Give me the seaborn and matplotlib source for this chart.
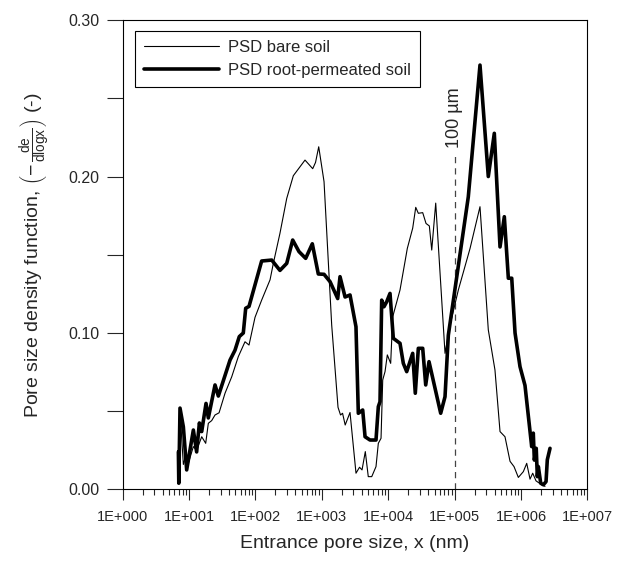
import numpy as np
import pandas as pd
import matplotlib
matplotlib.use("Agg")
import matplotlib.pyplot as plt
from matplotlib.ticker import FixedLocator, MultipleLocator, FuncFormatter, LogLocator, NullFormatter
import seaborn as sns

# ---------------------------------------------------------
# data (x in nm, y = -de/dlogx)
# ---------------------------------------------------------
bare_x = [7.0, 7.5, 8.2, 9.0, 9.73, 11.6, 13.0, 15.5, 17.8, 19.5, 21.9, 24.6, 28.3, 34.8,
          43.9, 55.2, 69.6, 80.0, 98.5, 124, 166, 186, 234, 296, 372, 558, 729, 804, 898,
          1080, 1409, 1754, 1914, 2053, 2250, 2660, 3272, 3700, 4035, 4520, 5010, 5650,
          6550, 7100, 7800, 8270, 8960, 9700, 10900, 11700, 15070, 17920, 19400, 23400,
          26000, 28440, 33110, 37150, 41680, 45300, 52000, 71800, 85400, 114000, 171000,
          241600, 322300, 406000, 484000, 575000, 685000, 787000, 914000, 1087000,
          1222000, 1371000, 1504000, 1687000, 2056000, 2306000]
bare_y = [0.030, 0.042, 0.016, 0.022, 0.0167, 0.0274, 0.025, 0.0337, 0.0295, 0.0423, 0.044,
          0.0476, 0.049, 0.0615, 0.072, 0.0849, 0.0944, 0.0923, 0.110, 0.121, 0.134, 0.1445,
          0.1637, 0.186, 0.2005, 0.2105, 0.205, 0.209, 0.219, 0.1967, 0.105, 0.0525, 0.0476,
          0.0487, 0.0412, 0.0492, 0.0104, 0.0142, 0.0125, 0.0242, 0.0082, 0.0082, 0.0146,
          0.0295, 0.0327, 0.070, 0.0753, 0.086, 0.0806, 0.1104, 0.1275, 0.1456, 0.154, 0.167,
          0.1803, 0.1765, 0.1769, 0.170, 0.1684, 0.153, 0.183, 0.087, 0.105, 0.1275, 0.154,
          0.1807, 0.102, 0.0764, 0.037, 0.0337, 0.018, 0.0146, 0.0077, 0.0114, 0.0167,
          0.0066, 0.0104, 0.0055, 0.0030, 0.0020]

root_x = [6.9, 7.0, 7.3, 8.2, 9.2, 11.6, 13.0, 14.3, 15.5, 18.0, 19.5, 24.6, 27.6, 41.4,
          49.2, 57.1, 65.6, 71.3, 80.0, 124, 176, 234, 296, 364, 453, 571, 719, 885, 1080,
          1330, 1735, 1880, 2240, 2660, 3270, 3548, 4130, 4480, 5320, 6550, 7100, 7530,
          7980, 8650, 9500, 10650, 11940, 15070, 16900, 19010, 23400, 25600, 28440, 33110,
          36750, 41200, 61800, 71800, 80500, 161000, 241600, 322300, 397000, 484000,
          562000, 646000, 726700, 815000, 968000, 1151000, 1452000, 1535000, 1592000,
          1700000, 1766000, 1829000, 1987000, 2174000, 2388000, 2497000, 2742000]
root_y = [0.024, 0.004, 0.052, 0.040, 0.0125, 0.038, 0.024, 0.0425, 0.037, 0.055, 0.0457,
          0.0668, 0.0597, 0.0827, 0.089, 0.0977, 0.100, 0.1158, 0.117, 0.146, 0.1466, 0.140,
          0.1445, 0.1594, 0.152, 0.1477, 0.157, 0.1377, 0.1375, 0.1328, 0.122, 0.136, 0.123,
          0.1243, 0.104, 0.0487, 0.0508, 0.0337, 0.0316, 0.0316, 0.0529, 0.0561, 0.121,
          0.1168, 0.120, 0.1253, 0.0966, 0.0934, 0.0806, 0.0753, 0.087, 0.0615, 0.0902,
          0.0902, 0.0668, 0.0817, 0.0487, 0.0593, 0.0985, 0.187, 0.2712, 0.200, 0.2276,
          0.155, 0.1743, 0.135, 0.135, 0.100, 0.0785, 0.0665, 0.0274, 0.036, 0.0188, 0.0263,
          0.0082, 0.0146, 0.004, 0.003, 0.005, 0.019, 0.0263]

series_labels = ["PSD bare soil", "PSD root-permeated soil"]
marker_size_nm = 1e5
marker_label = "100 µm"

# ---------------------------------------------------------
# style
# ---------------------------------------------------------
sns.set_style("ticks")
plt.rcParams.update({
    'font.family': ['Liberation Sans', 'DejaVu Sans'],
    'mathtext.fontset': 'custom',
    'mathtext.rm': 'Liberation Sans',
    'mathtext.it': 'Liberation Sans:italic',
    'mathtext.bf': 'Liberation Sans:bold',
    'axes.edgecolor': 'black',
    'axes.linewidth': 0.8,
})

fig = plt.figure(figsize=(6.27, 5.61), dpi=100)
ax = fig.add_axes([0.1957, 0.1275, 0.7410, 0.8368])

sns.lineplot(x=bare_x, y=bare_y, ax=ax, color='black', linewidth=0.8,
             estimator=None, sort=False, label=series_labels[0])
sns.lineplot(x=root_x, y=root_y, ax=ax, color='black', linewidth=2.6,
             estimator=None, sort=False, label=series_labels[1])

ax.axvline(marker_size_nm, ymin=0, ymax=0.214 / 0.30, color='#444444',
           linestyle=(0, (5, 4)), linewidth=0.9, zorder=1)
ax.text(marker_size_nm, 0.2375, marker_label, rotation=90, ha='center', va='center',
        fontsize=13)

ax.set_xscale('log')
ax.set_xlim(1, 1e7)
ax.set_ylim(0, 0.30)

ax.xaxis.set_major_locator(FixedLocator([10.0 ** k for k in range(8)]))
ax.xaxis.set_minor_locator(LogLocator(base=10, subs=np.arange(2, 10), numticks=20))
ax.xaxis.set_minor_formatter(NullFormatter())
ax.xaxis.set_major_formatter(FuncFormatter(lambda v, p: f"1E+{int(round(np.log10(v))):03d}"))

ax.yaxis.set_major_locator(MultipleLocator(0.10))
ax.yaxis.set_minor_locator(MultipleLocator(0.05))
ax.yaxis.set_major_formatter(FuncFormatter(lambda v, p: f"{v:.2f}"))

ax.tick_params(axis='x', which='major', direction='out', length=8, width=0.8,
               labelsize=10.5, pad=7)
ax.tick_params(axis='x', which='minor', direction='out', length=4.5, width=0.8)
ax.tick_params(axis='y', which='both', direction='out', length=11.5, width=0.8)
ax.tick_params(axis='y', which='major', labelsize=11.5, pad=5)

ax.set_xlabel('Entrance pore size, x (nm)', fontsize=14, labelpad=8)
ax.set_ylabel(r'Pore size density function, $\left(-\,\frac{\mathrm{de}}{\mathrm{dlogx}}\right)$ (-)',
              fontsize=14, labelpad=11.5)

leg = ax.legend(loc='upper left', bbox_to_anchor=(0.0265, 0.9766), borderaxespad=0,
                fontsize=12, handlelength=4.5, handletextpad=0.5, labelspacing=0.45,
                borderpad=0.55, fancybox=False, framealpha=1, edgecolor='black')
leg.get_frame().set_linewidth(0.8)

plt.savefig('out.png', dpi=100)
plt.close(fig)
